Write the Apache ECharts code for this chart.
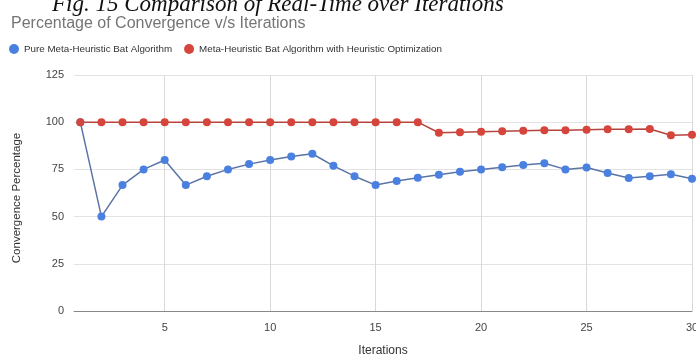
<!DOCTYPE html>
<html><head><meta charset="utf-8">
<script src="https://cdn.jsdelivr.net/npm/echarts@6/dist/echarts.min.js"></script>
<style>html,body{margin:0;padding:0;background:#fff}#c{width:696px;height:358px}</style>
</head><body><div id="c"></div>
<script>
const iterations = [1,2,3,4,5,6,7,8,9,10,11,12,13,14,15,16,17,18,19,20,21,22,23,24,25,26,27,28,29,30];
const pureBat = [100,50,66.7,75,80,66.7,71.4,75,77.8,80,81.8,83.3,76.9,71.4,66.7,68.8,70.6,72.2,73.7,75,76.2,77.3,78.3,75,76,73.1,70.4,71.4,72.4,70];
const heuristicBat = [100,100,100,100,100,100,100,100,100,100,100,100,100,100,100,100,100,94.4,94.7,95,95.2,95.5,95.7,95.8,96,96.2,96.3,96.4,93.1,93.3];
const xTicks = [5,10,15,20,25,30];
const seriesNames = ['Pure Meta-Heuristic Bat Algorithm','Meta-Heuristic Bat Algorithm with Heuristic Optimization'];

const chart = echarts.init(document.getElementById('c'));
chart.setOption({
  animation:false,
  backgroundColor:'#fff',
  title:[
    {text:'Fig. 15 Comparison of Real-Time over Iterations',left:47,top:-12,
     textStyle:{fontFamily:'Liberation Serif',fontStyle:'italic',fontWeight:'normal',fontSize:23,color:'#111'}},
    {text:'Percentage of Convergence v/s Iterations',left:6,top:11,
     textStyle:{fontFamily:'Liberation Sans',fontWeight:'normal',fontSize:16,color:'#757575'}}
  ],
  legend:{left:4,top:39,itemWidth:10,itemHeight:10,itemGap:12,icon:'circle',
    textStyle:{fontFamily:'Liberation Sans',fontSize:9.8,color:'#333'},
    data:seriesNames},
  grid:{left:74,right:4,top:75,bottom:47,outerBoundsMode:'none',containLabel:false},
  xAxis:{type:'value',min:0.7,max:30,
    name:'Iterations',nameLocation:'middle',nameGap:34,
    nameTextStyle:{fontFamily:'Liberation Sans',fontSize:12,color:'#333'},
    axisLine:{show:true,lineStyle:{color:'#888',width:1}},
    axisTick:{show:false,customValues:xTicks},
    axisLabel:{customValues:xTicks,color:'#444',fontFamily:'Liberation Sans',fontSize:11,margin:11},
    splitLine:{show:true,lineStyle:{color:'#d9d9d9',width:1}}
  },
  yAxis:{type:'value',min:0,max:125,interval:25,
    name:'Convergence Percentage',nameLocation:'middle',nameGap:51,
    nameTextStyle:{fontFamily:'Liberation Sans',fontSize:11.5,color:'#333',padding:[0,10,0,0]},
    axisLine:{show:false},axisTick:{show:false},
    axisLabel:{color:'#444',fontFamily:'Liberation Sans',fontSize:11,margin:10},
    splitLine:{show:true,lineStyle:{color:'#e3e3e3',width:1}}
  },
  series:[
    {name:seriesNames[0],type:'line',data:iterations.map((x,i)=>[x,pureBat[i]]),
     symbol:'circle',symbolSize:8,itemStyle:{color:'#4a80e0'},
     lineStyle:{color:'#5b74a6',width:1.5}},
    {name:seriesNames[1],type:'line',data:iterations.map((x,i)=>[x,heuristicBat[i]]),
     symbol:'circle',symbolSize:8,itemStyle:{color:'#d6453b'},
     lineStyle:{color:'#b5443c',width:1.5}}
  ]
});
</script></body></html>
